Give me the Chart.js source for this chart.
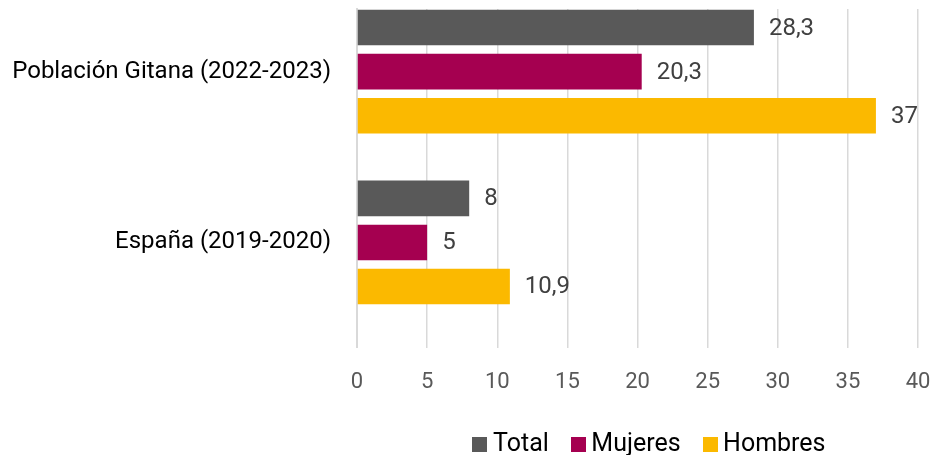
<!DOCTYPE html>
<html>
<head>
<meta charset="utf-8">
<script src="https://cdn.jsdelivr.net/npm/chart.js@4/dist/chart.umd.min.js"></script>
<style>
  html, body { margin: 0; padding: 0; background: #fff; }
  #wrap { width: 932px; height: 455px; }
</style>
</head>
<body>
<div id="wrap"><canvas id="myChart" width="932" height="455"></canvas></div>
<script>
const categories = ['Población Gitana (2022-2023)', 'España (2019-2020)'];
const seriesNames = ['Total', 'Mujeres', 'Hombres'];
const total = [28.3, 8];
const mujeres = [20.3, 5];
const hombres = [37, 10.9];
const xTicks = [0, 5, 10, 15, 20, 25, 30, 35, 40];
const colors = ['#595959', '#A50050', '#FBB900'];

const font = 'Roboto';

// bars sit on a linear index axis so the groups land where the original ones are
function points(arr) {
  return arr.map((v, i) => ({ x: v, y: i }));
}

// little square for the legend, so the text can sit close to it
function swatch(color) {
  const c = document.createElement('canvas');
  c.width = 15;
  c.height = 15;
  const g = c.getContext('2d');
  g.fillStyle = color;
  g.fillRect(0, 0, 15, 15);
  return c;
}

const valueLabels = {
  id: 'valueLabels',
  afterDatasetsDraw(chart) {
    const ctx = chart.ctx;
    ctx.save();
    ctx.font = '24px ' + font;
    ctx.fillStyle = '#404040';
    ctx.textAlign = 'left';
    ctx.textBaseline = 'middle';
    chart.data.datasets.forEach((ds, di) => {
      const meta = chart.getDatasetMeta(di);
      meta.data.forEach((bar, i) => {
        const txt = String(ds.data[i].x).replace('.', ',');
        ctx.fillText(txt, bar.x + 15, bar.y + 1);
      });
    });
    ctx.restore();
  }
};

// legend in the original sits a bit right of the plot centre
const legendNudge = {
  id: 'legendNudge',
  afterLayout(chart) {
    chart.legend.left += 15;
    chart.legend.right += 15;
  }
};

const ctx = document.getElementById('myChart').getContext('2d');
new Chart(ctx, {
  type: 'bar',
  data: {
    datasets: [
      { label: seriesNames[0], data: points(total), backgroundColor: colors[0] },
      { label: seriesNames[1], data: points(mujeres), backgroundColor: colors[1] },
      { label: seriesNames[2], data: points(hombres), backgroundColor: colors[2] },
    ],
  },
  options: {
    indexAxis: 'y',
    responsive: false,
    animation: false,
    categoryPercentage: 0.774,
    barPercentage: 0.807,
    layout: { padding: { top: 9, left: 10, right: 14, bottom: -12 } },
    scales: {
      x: {
        min: xTicks[0],
        max: xTicks[xTicks.length - 1],
        afterBuildTicks: (scale) => { scale.ticks = xTicks.map((v) => ({ value: v })); },
        afterFit: (scale) => {
          scale.paddingLeft = 0;
          scale.paddingRight = 0;
          scale.height -= 15;
        },
        grid: { color: '#d9d9d9', lineWidth: 1.5, drawTicks: false },
        border: { display: false },
        ticks: { color: '#595959', font: { family: font, size: 22 }, padding: 22 },
      },
      y: {
        type: 'linear',
        reverse: true,
        offset: false,
        min: -0.3666,
        max: 1.6158,
        grid: { display: false, drawTicks: false },
        border: { display: true, color: '#d9d9d9', width: 2 },
        afterFit: (scale) => {
          scale.width = 347;
          scale.paddingTop = 0;
          scale.paddingBottom = 0;
        },
        ticks: {
          stepSize: 1,
          includeBounds: false,
          color: '#000',
          padding: 26,
          font: { family: font, size: 24 },
          callback: (v) => categories[v] ?? '',
        },
      },
    },
    plugins: {
      legend: {
        position: 'bottom',
        fullSize: false,
        labels: {
          usePointStyle: true,
          pointStyleWidth: 1,
          padding: 29,
          color: '#000',
          font: { family: font, size: 25 },
          generateLabels: (chart) =>
            Chart.defaults.plugins.legend.labels.generateLabels(chart)
              .map((item, i) => ({ ...item, pointStyle: swatch(colors[i]) })),
        },
      },
      tooltip: { enabled: false },
    },
  },
  plugins: [valueLabels, legendNudge],
});
</script>
</body>
</html>
